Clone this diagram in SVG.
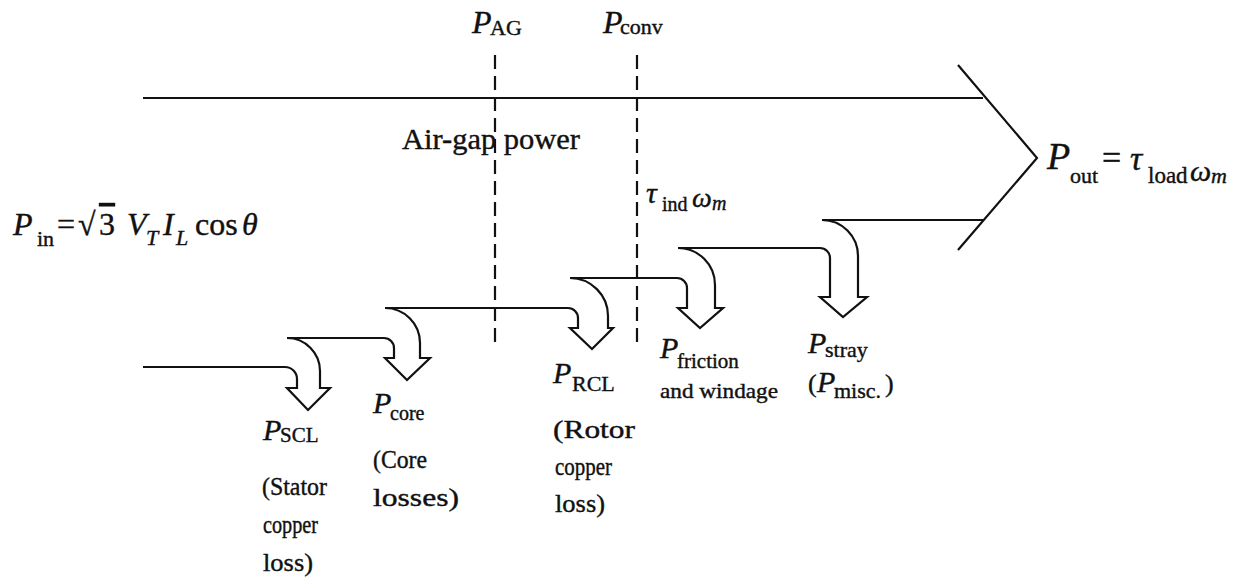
<svg xmlns="http://www.w3.org/2000/svg" width="1241" height="585" viewBox="0 0 1241 585">
<style>
text{fill:#111;stroke:#111;stroke-width:0.4}
.i{font-style:italic}
.ln{fill:none;stroke:#111;stroke-width:2.2;stroke-linejoin:miter}
.ar{fill:#fff;stroke:#111;stroke-width:2.2;stroke-linejoin:miter}
.dash{fill:none;stroke:#111;stroke-width:2.2;stroke-dasharray:14 7}
</style>
<rect width="1241" height="585" fill="#fff"/>
<g id="connectors">
<line class="ln" x1="143" y1="98" x2="983" y2="98"/>
<polyline class="ln" points="958,65 1037,158 958,250"/>
<line class="ln" x1="822" y1="220" x2="983" y2="220"/>
<path class="ar" d="M287 338 A33 33 0 0 1 320 371 L320 388 L330 388 L308 410 L287 388 L297 388 L297 379 A12 12 0 0 0 285 367 L143 367"/>
<path class="ar" d="M385 308 A35 35 0 0 1 420 343 L420 358 L430 358 L407 380 L385 358 L394 358 L394 348 A10 10 0 0 0 384 338 L287 338"/>
<path class="ar" d="M570 278 A38 38 0 0 1 608 316 L608 328 L613 328 L592 349 L570 328 L578 328 L578 318 A10 10 0 0 0 568 308 L385 308"/>
<path class="ar" d="M678 248 A37 37 0 0 1 715 285 L715 308 L723 308 L700 328 L678 308 L687 308 L687 288 A10 10 0 0 0 677 278 L570 278"/>
<path class="ar" d="M822 220 A36 36 0 0 1 858 256 L858 297 L867 297 L843 317 L820 297 L830 297 L830 258 A10 10 0 0 0 820 248 L678 248"/>
<line class="dash" x1="495" y1="55" x2="495" y2="348"/>
<line class="dash" x1="637" y1="55" x2="637" y2="345"/>
</g>
<g font-family="Liberation Serif, Times New Roman, serif">
<g id="pin">
<text font-size="32"><tspan class="i" x="13" y="235">P</tspan><tspan font-size="22" x="37" y="246">in</tspan><tspan x="57" y="235">=</tspan><tspan x="78" y="235">√</tspan><tspan x="99" y="235" text-decoration="overline">3</tspan><tspan class="i" x="127" y="235">V</tspan><tspan class="i" font-size="22" x="146" y="245">T</tspan><tspan class="i" x="163" y="235">I</tspan><tspan class="i" font-size="22" x="176" y="245">L</tspan><tspan x="195" y="235">cos</tspan><tspan class="i" x="242" y="235">θ</tspan></text>
</g>
<g id="pag">
<text font-size="32"><tspan class="i" x="472" y="33">P</tspan><tspan font-size="22" x="490" y="35">AG</tspan></text>
</g>
<g id="pconv">
<text font-size="32"><tspan class="i" x="603" y="33">P</tspan><tspan font-size="22" x="620" y="34">conv</tspan></text>
</g>
<g id="airgap">
<text font-size="30" x="402" y="149" textLength="178" lengthAdjust="spacingAndGlyphs">Air-gap power</text>
</g>
<g id="tind">
<text font-size="30"><tspan class="i" x="646" y="203">τ</tspan><tspan font-size="20" x="662" y="211">ind</tspan><tspan class="i" font-size="28" x="692" y="207">ω</tspan><tspan class="i" font-size="20" x="712" y="210">m</tspan></text>
</g>
<g id="pout">
<text font-size="38"><tspan class="i" x="1047" y="169">P</tspan><tspan font-size="22" x="1070" y="183">out</tspan><tspan font-size="34" x="1102" y="169">=</tspan><tspan class="i" font-size="34" x="1130" y="170">τ</tspan><tspan font-size="23" x="1148" y="183">load</tspan><tspan class="i" font-size="30" x="1190" y="181">ω</tspan><tspan class="i" font-size="22" x="1211" y="183">m</tspan></text>
</g>
<g id="pscl">
<text font-size="30"><tspan class="i" x="263" y="440">P</tspan><tspan font-size="21" x="280" y="442">SCL</tspan></text>
<text font-size="26" x="262" y="495" textLength="65" lengthAdjust="spacingAndGlyphs">(Stator</text>
<text font-size="26" x="263" y="533" textLength="55" lengthAdjust="spacingAndGlyphs">copper</text>
<text font-size="26" x="263" y="571" textLength="50" lengthAdjust="spacingAndGlyphs">loss)</text>
</g>
<g id="pcore">
<text font-size="30"><tspan class="i" x="373" y="413">P</tspan><tspan font-size="20" x="390" y="420">core</tspan></text>
<text font-size="26" x="373" y="468" textLength="54" lengthAdjust="spacingAndGlyphs">(Core</text>
<text font-size="26" x="373" y="506" textLength="86" lengthAdjust="spacingAndGlyphs">losses)</text>
</g>
<g id="prcl">
<text font-size="30"><tspan class="i" x="553" y="383">P</tspan><tspan font-size="22" x="572" y="391">RCL</tspan></text>
<text font-size="26" x="553" y="438" textLength="82" lengthAdjust="spacingAndGlyphs">(Rotor</text>
<text font-size="26" x="555" y="475" textLength="57" lengthAdjust="spacingAndGlyphs">copper</text>
<text font-size="26" x="555" y="512" textLength="50" lengthAdjust="spacingAndGlyphs">loss)</text>
</g>
<g id="pfric">
<text font-size="30"><tspan class="i" x="660" y="358">P</tspan><tspan font-size="21" x="677" y="368">friction</tspan></text>
<text font-size="21" x="660" y="398" textLength="118" lengthAdjust="spacingAndGlyphs">and windage</text>
</g>
<g id="pstray">
<text font-size="30"><tspan class="i" x="808" y="353">P</tspan><tspan font-size="22" x="825" y="357">stray</tspan></text>
<text font-size="26"><tspan x="808" y="392">(</tspan><tspan class="i" font-size="30" x="817" y="392">P</tspan><tspan font-size="22" x="834" y="398">misc.</tspan><tspan x="885" y="392">)</tspan></text>
</g>
</g>
</svg>
